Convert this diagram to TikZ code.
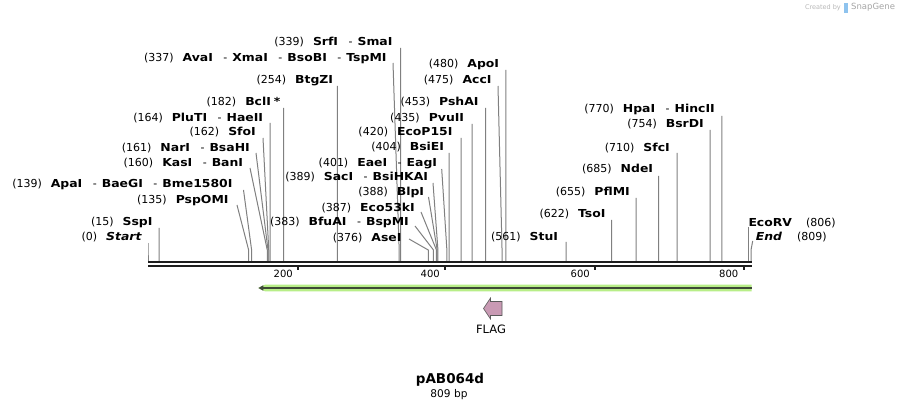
\documentclass[tikz,border=0pt]{standalone}
\usepackage{fontspec}
\setmainfont{DejaVu Sans}
\newfontfamily\nmfont[FakeStretch=1.13]{DejaVu Sans}
\usetikzlibrary{arrows.meta}
\definecolor{cutgray}{HTML}{808080}
\definecolor{bbone}{HTML}{1E1E1E}
\definecolor{featlight}{HTML}{B8EE88}
\definecolor{featdark}{HTML}{3E4A36}
\definecolor{flagpink}{HTML}{C99AB4}
\definecolor{flagedge}{HTML}{5A5A5A}
\definecolor{wmgray}{HTML}{B8B8B8}
\definecolor{wmblue}{HTML}{8EC3EE}
\newcommand\nm[1]{{\nmfont\bfseries #1}}
\newcommand\numgap{\hspace{9pt}}
\newcommand\namesep{\hspace{10.5pt}-\hspace{5pt}}
\newcommand\cutsite[7]{%
  \node[lab,anchor=east] (l#1) at (#2,#3) {#7};
  \coordinate (t#1) at (#4,#5);
  \coordinate (b#1) at ({148+#6*0.74536},250);
  \coordinate (s#1) at ({148+#6*0.74536},261);
  \draw[cutline] (t#1) -- (b#1) -- (s#1);
}
\begin{document}
\begin{tikzpicture}[x=1pt,y=-1pt,
  lab/.style={font=\fontsize{11}{13}\selectfont, inner sep=0pt, text height=9pt, text depth=1.5pt},
  cutline/.style={draw=cutgray, line width=1pt},
  bb/.style={draw=bbone},
  tickmark/.style={draw=bbone, line width=2pt},
  ticklab/.style={font=\fontsize{10}{12}\selectfont, inner sep=0pt, anchor=east, text height=7.5pt, text depth=0pt}]
\fill[white] (0,0) rectangle (900,411);
\useasboundingbox (0,0) rectangle (900,411);
% watermark
\node[font=\fontsize{6.5}{8}\selectfont, text=wmgray, inner sep=0pt, anchor=east] (wm1) at (841,7.5) {Created by};
\fill[wmblue] (844,3) rectangle (848,13);
\node[font=\fontsize{8.5}{10}\selectfont, text=wmgray!90!black, inner sep=0pt, anchor=west] (wm2) at (851,7.5) {SnapGene};
% left group
\cutsite{339}{392.7}{41.7}{400.7}{48}{339}{(339)\numgap\nm{SrfI}\namesep\nm{SmaI}}
\cutsite{337}{386.7}{57.3}{393}{63}{337}{(337)\numgap\nm{AvaI}\namesep\nm{XmaI}\namesep\nm{BsoBI}\namesep\nm{TspMI}}
\cutsite{254}{333.3}{79.3}{337.3}{86}{254}{(254)\numgap\nm{BtgZI}}
\cutsite{182}{280.7}{101.7}{283.7}{108}{182}{(182)\numgap\nm{BclI}\hspace{3pt}\nm{*}}
\cutsite{164}{263.3}{117.3}{270}{123}{164}{(164)\numgap\nm{PluTI}\namesep\nm{HaeII}}
\cutsite{162}{256}{131.7}{263}{138}{162}{(162)\numgap\nm{SfoI}}
\cutsite{161}{250}{147.3}{256}{153}{161}{(161)\numgap\nm{NarI}\namesep\nm{BsaHI}}
\cutsite{160}{243.3}{162.7}{250}{168}{160}{(160)\numgap\nm{KasI}\namesep\nm{BanI}}
\cutsite{139}{232.7}{183.3}{243.5}{190}{139}{(139)\numgap\nm{ApaI}\namesep\nm{BaeGI}\namesep\nm{Bme1580I}}
\cutsite{135}{228.7}{199.3}{237}{205}{135}{(135)\numgap\nm{PspOMI}}
\cutsite{15}{152.7}{221.7}{159.2}{228}{15}{(15)\numgap\nm{SspI}}
\cutsite{0}{141.7}{236.7}{148}{243}{0}{(0)\numgap\nm{\itshape Start}}
% middle group
\cutsite{480}{499.3}{63.3}{505.8}{70}{480}{(480)\numgap\nm{ApoI}}
\cutsite{475}{491.7}{79.3}{498}{86}{475}{(475)\numgap\nm{AccI}}
\cutsite{453}{478.7}{101.7}{485.7}{108}{453}{(453)\numgap\nm{PshAI}}
\cutsite{435}{464.3}{117.3}{472.2}{124}{435}{(435)\numgap\nm{PvuII}}
\cutsite{420}{452.7}{131.7}{461}{138}{420}{(420)\numgap\nm{EcoP15I}}
\cutsite{404}{444.3}{146.7}{449.1}{153}{404}{(404)\numgap\nm{BsiEI}}
\cutsite{401}{437.3}{162.7}{441.7}{169}{401}{(401)\numgap\nm{EaeI}\namesep\nm{EagI}}
\cutsite{389}{428.3}{176.7}{433}{183}{389}{(389)\numgap\nm{SacI}\namesep\nm{BsiHKAI}}
\cutsite{388}{424.3}{191.7}{428.5}{197}{388}{(388)\numgap\nm{BlpI}}
\cutsite{387}{415}{207.3}{421}{212}{387}{(387)\numgap\nm{Eco53kI}}
\cutsite{383}{409}{221.7}{415}{226}{383}{(383)\numgap\nm{BfuAI}\namesep\nm{BspMI}}
\cutsite{376}{401.7}{237.3}{409}{239}{376}{(376)\numgap\nm{AseI}}
% right group
\cutsite{561}{558.3}{236.7}{566.2}{242}{561}{(561)\numgap\nm{StuI}}
\cutsite{622}{605.7}{214}{611.6}{220}{622}{(622)\numgap\nm{TsoI}}
\cutsite{655}{630}{191.7}{636.2}{198}{655}{(655)\numgap\nm{PflMI}}
\cutsite{685}{653.3}{169}{658.6}{176}{685}{(685)\numgap\nm{NdeI}}
\cutsite{710}{670}{147.3}{677.2}{153}{710}{(710)\numgap\nm{SfcI}}
\cutsite{754}{704}{124}{710}{130}{754}{(754)\numgap\nm{BsrDI}}
\cutsite{770}{715}{109}{721.9}{116}{770}{(770)\numgap\nm{HpaI}\namesep\nm{HincII}}
% EcoRV and End (labels to the right)
\node[lab,anchor=west] (l806) at (748.3,222.3) {\nm{EcoRV}\hspace{14pt}(806)};
\coordinate (t806) at (748.8,227);
\coordinate (s806) at (748.8,261);
\draw[cutline] (t806) -- (s806);
\node[lab,anchor=west] (l809) at (755.7,236.7) {\nm{\itshape End}\hspace{15pt}(809)};
\coordinate (t809) at (752.7,241);
\coordinate (b809) at (751,250);
\coordinate (s809) at (751,261);
\draw[cutline] (t809) -- (b809) -- (s809);
% backbone
\coordinate (bbL) at (148,262);
\coordinate (bbR) at (751.7,262);
\draw[bb, line width=2.6pt] (bbL) -- (bbR);
\draw[bb, line width=2.3pt] ([yshift=-4.2pt]bbL) -- ([yshift=-4.2pt]bbR);
% ticks
\foreach \tx/\tl in {298/200, 445/400, 595/600, 743.5/800}{
  \coordinate (tk\tl) at (\tx,265.5);
  \draw[tickmark] (tk\tl) -- ++(0,5);
  \node[ticklab] (tl\tl) at (\tx-5,274) {\tl};
}
% feature arrow
\coordinate (fL) at (258.3,288);
\coordinate (fR) at (751.7,288);
\fill[featlight] (fR) ++(0,-3.3) -- (265,284.7) -- (fL) -- (265,291.3) -- (751.7,291.3) -- cycle;
\draw[featdark, line width=1.8pt, -{Triangle[length=5pt,width=5pt]}] (fR) -- (fL);
% FLAG
\draw[fill=flagpink, draw=flagedge, line width=0.6pt] (483.5,308.5) -- (490.5,298) -- (490.5,301.5) -- (502,301.5) -- (502,315.5) -- (490.5,315.5) -- (490.5,319) -- cycle;
\node[font=\fontsize{11.5}{13}\selectfont, inner sep=0pt] (flag) at (491,329) {FLAG};
% title
\node[font=\fontsize{13.5}{15}\selectfont\bfseries, inner sep=0pt] (title) at (450,380) {pAB064d};
\node[font=\fontsize{10.6}{12}\selectfont, inner sep=0pt] (size) at (449,395) {809 bp};
\end{tikzpicture}
\end{document}
